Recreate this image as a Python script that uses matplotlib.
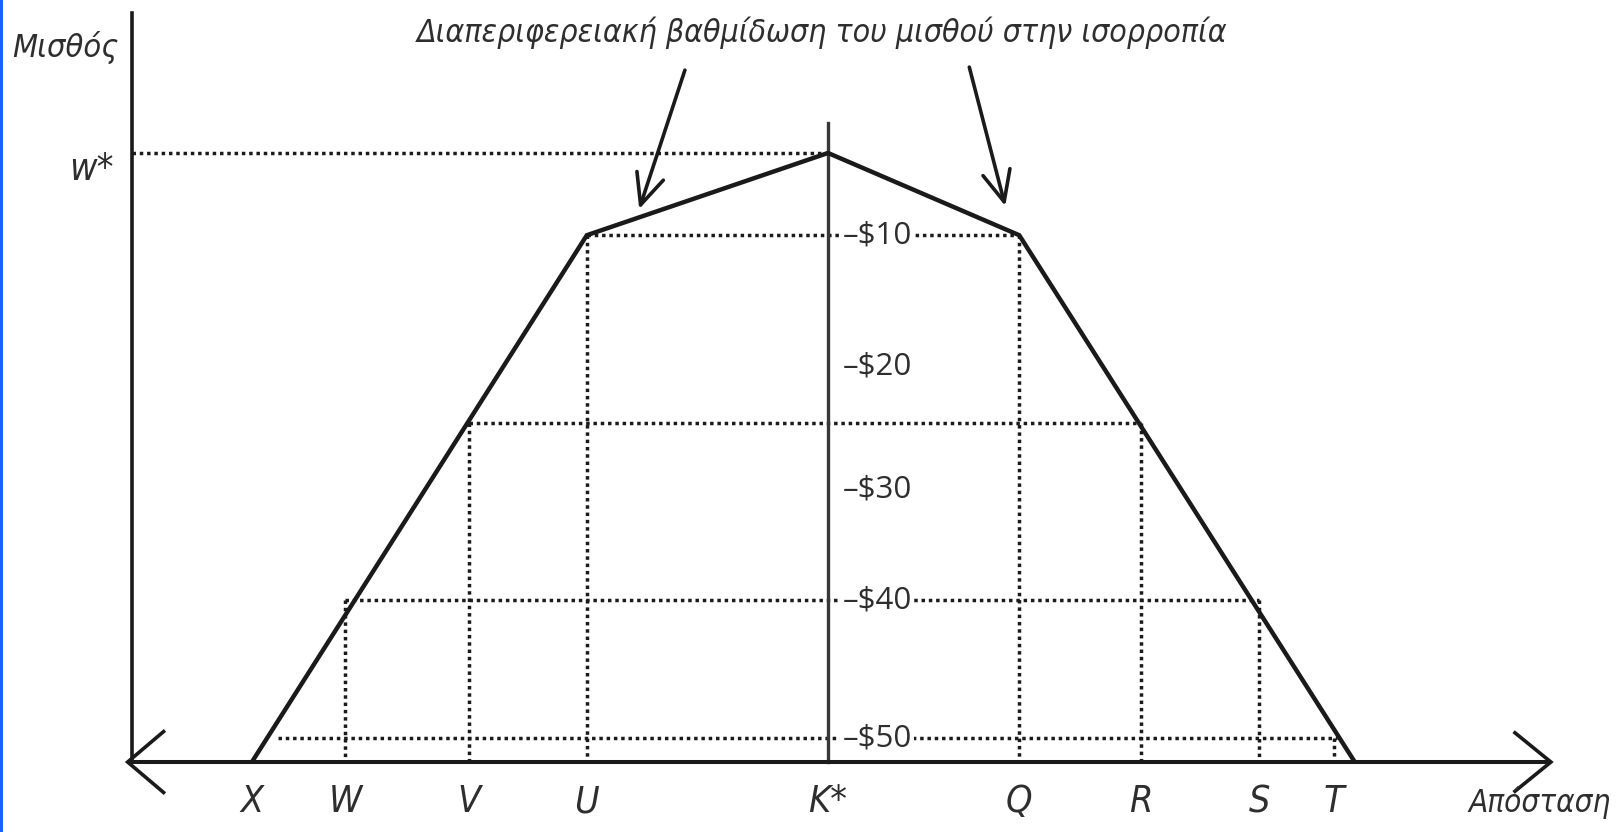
import matplotlib
matplotlib.use("Agg")
import matplotlib.pyplot as plt
from matplotlib import font_manager
from matplotlib.font_manager import FontProperties
from matplotlib.patches import Rectangle

# ---- data: schematic wage gradient around the core city K* ----
# distance measured from K* (K* = 0), wage measured from the axis (w* = 100)
point_names = ["X", "W", "V", "U", "K*", "Q", "R", "S", "T"]
point_dist = [-94.6, -79.3, -58.9, -39.6, 0.0, 31.4, 51.4, 70.8, 83.1]

# kinked equilibrium wage curve
curve_dist = [-94.6, -39.6, 0.0, 31.4, 86.5]
curve_wage = [0.0, 86.5, 100.0, 86.5, 0.0]

w_star = 100.0

# dotted horizontal guides: level and horizontal extent
guide_levels = [86.5, 55.7, 26.6, 3.9]
guide_from = [-39.6, -58.9, -79.3, -90.3]
guide_to = [31.4, 51.4, 70.8, 83.6]

# dotted drops from each guide down to the distance axis
drop_dist = [-79.3, -58.9, -39.6, 31.4, 51.4, 70.8, 83.1]
drop_wage = [26.6, 55.7, 86.5, 86.5, 55.7, 26.6, 3.9]

wage_labels = ["\u2013$10", "\u2013$20", "\u2013$30", "\u2013$40", "\u2013$50"]
wage_label_pos = [86.5, 65.0, 44.7, 26.6, 3.9]

title_text = "Διαπεριφερειακή βαθμίδωση του μισθού στην ισορροπία"
y_title = "Μισθός"
x_title = "Απόσταση"


# ---- fonts: prefer a narrow italic face for the lettering ----
def pick_narrow_italic():
    prefs = ["LiberationSansNarrow-Italic", "DejaVuSansCondensed-Oblique"]
    files = [f.fname for f in font_manager.fontManager.ttflist]
    for p in prefs:
        for fn in files:
            if p.lower() in fn.lower().replace(" ", ""):
                return FontProperties(fname=fn)
    for f in font_manager.fontManager.ttflist:
        low = f.fname.lower()
        if ("narrow" in low or "condensed" in low) and f.style in ("italic", "oblique") \
                and f.weight in (400, "normal", "regular"):
            return FontProperties(fname=f.fname)
    return FontProperties(family=["Liberation Sans", "DejaVu Sans"], style="italic")


ital_base = pick_narrow_italic()
num_family = ["Open Sans", "DejaVu Sans"]


def ital(size):
    fp = ital_base.copy()
    fp.set_size(size)
    return fp


INK = "#1a1a1a"
TXT = "#2e2e2e"

fig = plt.figure(figsize=(16.16, 8.32), dpi=100)
ax = fig.add_axes([0, 0, 1, 1])
ax.set_xlim(-135.96, 129.39)
ax.set_ylim(-11.49, 125.12)
ax.axis("off")

dot = dict(color=INK, lw=2.5, linestyle=(0, (1, 1.1)), solid_capstyle="butt",
           dash_capstyle="butt", zorder=1)

yaxis_x = -114.3

# w* guide from the wage axis to K*
ax.plot([yaxis_x, 0.0], [w_star, w_star], **dot)
for lev, a, b in zip(guide_levels, guide_from, guide_to):
    ax.plot([a, b], [lev, lev], **dot)
for d, w in zip(drop_dist, drop_wage):
    ax.plot([d, d], [w, 0.0], **dot)

# K* vertical
ax.plot([0.0, 0.0], [0.0, 104.9], color="#383838", lw=2.4, zorder=2)

# equilibrium wage curve
ax.plot(curve_dist, curve_wage, color=INK, lw=3.2, zorder=3,
        solid_joinstyle="miter", solid_capstyle="butt")

# wage axis
ax.plot([yaxis_x, yaxis_x], [0.0, 123.0], color=INK, lw=2.6, zorder=2)

# distance axis with open arrowheads on both ends
left_tip, right_tip = -115.0, 118.7
ax.plot([left_tip, right_tip], [0.0, 0.0], color=INK, lw=2.9, zorder=2,
        solid_capstyle="butt")
ax.plot([left_tip + 5.9, left_tip, left_tip + 5.9], [5.0, 0.0, -5.0],
        color=INK, lw=2.6, zorder=2, solid_joinstyle="miter")
ax.plot([right_tip - 5.9, right_tip, right_tip - 5.9], [4.8, 0.0, -4.8],
        color=INK, lw=2.6, zorder=2, solid_joinstyle="miter")

# wage-difference labels beside K*
for lab, pos in zip(wage_labels, wage_label_pos):
    ax.text(2.4, pos, lab, ha="left", va="center", fontsize=22.5,
            family=num_family, color=TXT, zorder=4,
            bbox=dict(fc="white", ec="none", pad=1.5))

# point labels under the distance axis
for name, d in zip(point_names, point_dist):
    ax.text(d, -6.6, name, ha="center", va="center", fontproperties=ital(27),
            color=TXT)

x_lab = ax.text(128.6, -6.6, x_title, ha="right", va="center",
                fontproperties=ital(27), color=TXT)
y_lab = ax.text(-125.3, 117.4, y_title, ha="center", va="center",
                fontproperties=ital(27), color=TXT)
ax.text(-120.9, 97.2, "w*", ha="center", va="center", fontproperties=ital(27),
        color=TXT)

title = ax.text(-1.0, 119.7, title_text, ha="center", va="center",
                fontproperties=ital(28), color=TXT)

# fit the longer captions to their spans (in pixels)
renderer = fig.canvas.get_renderer()
for t, span in ((title, 810.0), (x_lab, 142.0), (y_lab, 106.0)):
    size = t.get_fontsize()
    t.set_fontsize(size * span / t.get_window_extent(renderer).width)

# arrows pointing at the two flanks of the curve
arrow_style = dict(arrowstyle="->,head_length=1.1,head_width=0.5", lw=2.6,
                   color=INK, mutation_scale=20, shrinkA=0, shrinkB=0)
ax.annotate("", xy=(-31.0, 90.8), xytext=(-23.5, 113.6), arrowprops=arrow_style)
ax.annotate("", xy=(29.1, 91.3), xytext=(23.2, 114.1), arrowprops=arrow_style)

# thin blue frame edge on the left
fig.add_artist(Rectangle((0, 0), 3 / 1616, 1, transform=fig.transFigure,
                         color="#1d5fff", lw=0))

fig.savefig("out.png", dpi=100, facecolor="white")
